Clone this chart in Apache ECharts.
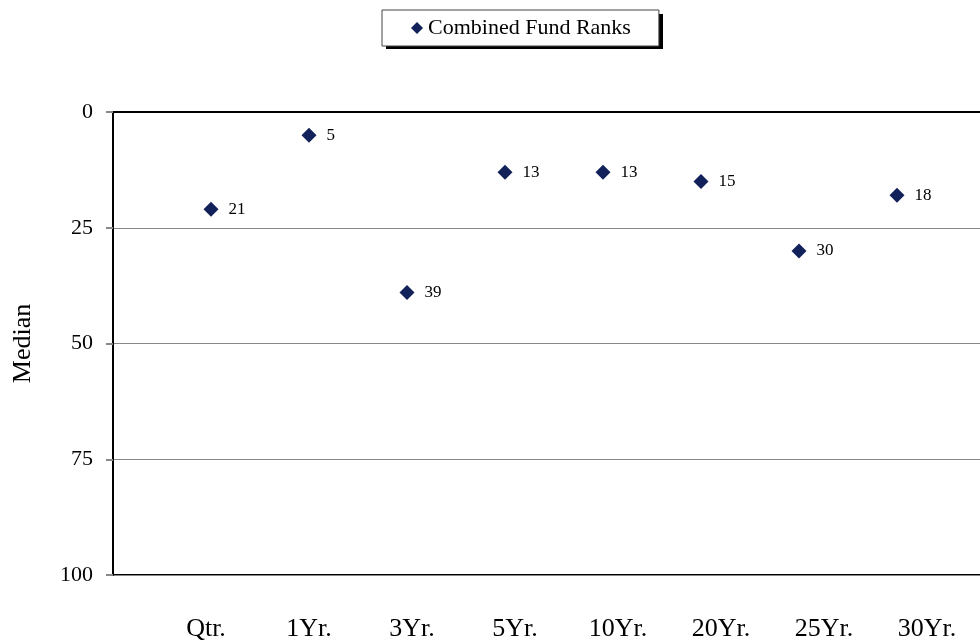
<!DOCTYPE html>
<html>
<head>
<meta charset="utf-8">
<script src="https://cdn.jsdelivr.net/npm/echarts@6/dist/echarts.min.js"></script>
<style>
  html, body { margin: 0; padding: 0; background: #fff; overflow: hidden; }
  #chart { width: 1040px; height: 642px; }
</style>
</head>
<body>
<div id="chart"></div>
<script>
// categories padded with blanks so points sit on the tick positions
const categories = ['', 'Qtr.', '1Yr.', '3Yr.', '5Yr.', '10Yr.', '20Yr.', '25Yr.', '30Yr.', ''];
const fundRanks = [null, 21, 5, 39, 13, 13, 15, 30, 18, null];
const yTicks = [0, 25, 50, 75, 100];

const serif = '"Liberation Serif", "DejaVu Serif", serif';
const chart = echarts.init(document.getElementById('chart'));

chart.setOption({
  backgroundColor: '#fff',
  animation: false,
  // drop shadow behind the legend box
  graphic: [{
    type: 'rect',
    left: 386,
    top: 14,
    z: 1,
    shape: { width: 277, height: 35 },
    style: { fill: '#000' },
    silent: true
  }],
  legend: {
    data: ['Combined Fund Ranks'],
    left: 382,
    top: 10,
    z: 10,
    icon: 'diamond',
    itemWidth: 12,
    itemHeight: 12,
    itemGap: 6,
    padding: [7, 28, 7, 29],
    backgroundColor: '#fff',
    borderColor: '#444',
    borderWidth: 1,
    textStyle: { fontFamily: serif, fontSize: 22, color: '#000' }
  },
  grid: [{
    left: 113,
    top: 112,
    width: 882,
    height: 463,
    show: true,
    borderColor: '#000',
    borderWidth: 2,
    backgroundColor: '#fff'
  }, {
    // label-only grid: category labels in the original are spaced a bit wider than the points
    left: 103,
    top: 112,
    width: 927,
    height: 463
  }],
  xAxis: [{
    type: 'category',
    gridIndex: 0,
    data: categories,
    boundaryGap: false,
    axisLine: { show: true, lineStyle: { color: '#000', width: 2 } },
    axisTick: { show: false },
    axisLabel: { show: false },
    splitLine: { show: false }
  }, {
    type: 'category',
    gridIndex: 1,
    data: categories,
    boundaryGap: false,
    axisLine: { show: false },
    axisTick: { show: false },
    axisLabel: {
      color: '#000',
      fontFamily: serif,
      fontSize: 26,
      margin: 45,
      interval: 0
    },
    splitLine: { show: false }
  }],
  yAxis: [{
    type: 'value',
    gridIndex: 0,
    inverse: true,
    min: yTicks[0],
    max: yTicks[yTicks.length - 1],
    interval: 25,
    name: 'Median',
    nameLocation: 'middle',
    nameGap: 77,
    nameRotate: 90,
    nameTextStyle: { fontFamily: serif, fontSize: 26, color: '#000' },
    axisLine: { show: true, lineStyle: { color: '#000', width: 2 } },
    axisTick: { show: true, length: 7, lineStyle: { color: '#888', width: 2 } },
    axisLabel: { color: '#000', fontFamily: serif, fontSize: 22, margin: 20 },
    splitLine: { show: true, lineStyle: { color: '#888', width: 1 } }
  }, {
    type: 'value',
    gridIndex: 1,
    show: false
  }],
  series: [{
    name: 'Combined Fund Ranks',
    type: 'scatter',
    xAxisIndex: 0,
    yAxisIndex: 0,
    data: fundRanks,
    symbol: 'diamond',
    symbolSize: 15,
    itemStyle: { color: '#13215b', opacity: 1 },
    label: {
      show: true,
      position: 'right',
      distance: 10,
      fontFamily: serif,
      fontSize: 17,
      color: '#000'
    }
  }]
});
</script>
</body>
</html>
